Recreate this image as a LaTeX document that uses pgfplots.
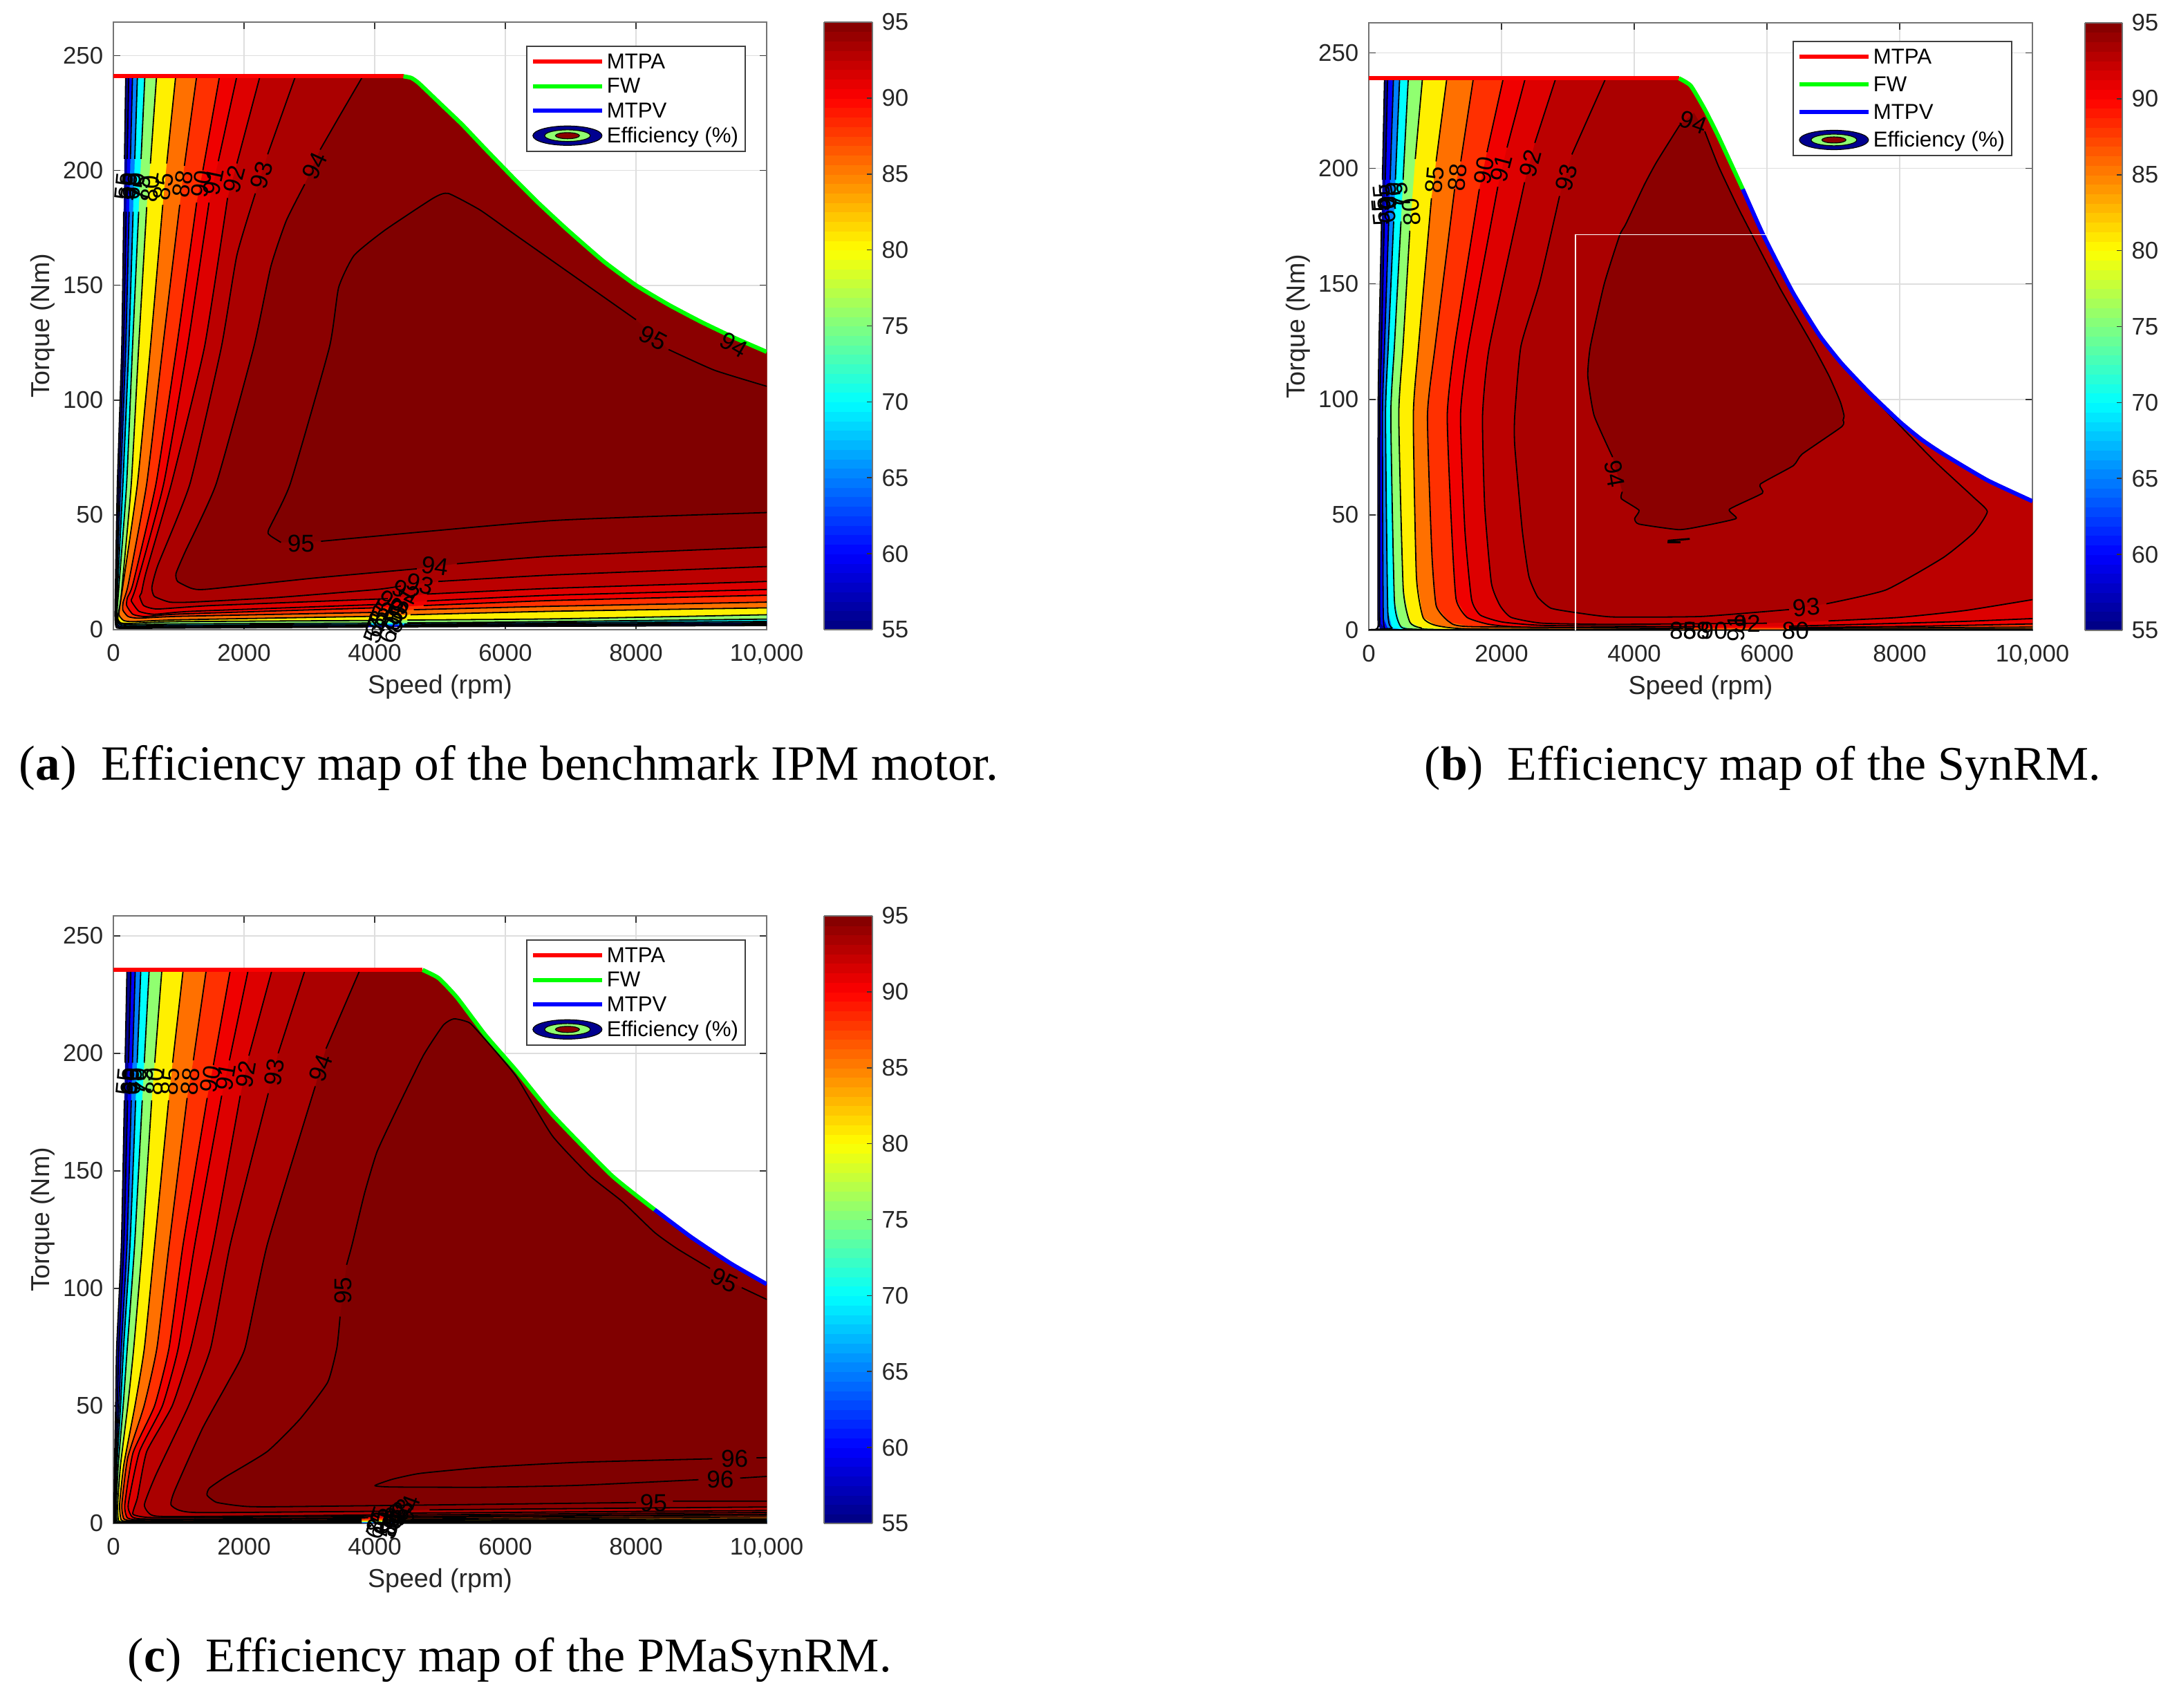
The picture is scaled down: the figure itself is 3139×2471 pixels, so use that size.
\documentclass[border=0pt]{standalone}
\usepackage{fontspec}
\setmainfont{Liberation Sans}
\newfontfamily\capf{Liberation Serif}
\usepackage{pgfplots}
\pgfplotsset{compat=1.18}

\definecolor{c55}{HTML}{00008F}
\definecolor{c60}{HTML}{0000FF}
\definecolor{c65}{HTML}{0080FF}
\definecolor{c70}{HTML}{00FFFF}
\definecolor{c75}{HTML}{90FF70}
\definecolor{c80}{HTML}{FFF000}
\definecolor{c85}{HTML}{FF7000}
\definecolor{c88}{HTML}{FF3000}
\definecolor{c90}{HTML}{F00000}
\definecolor{c91}{HTML}{DD0000}
\definecolor{c92}{HTML}{BB0000}
\definecolor{c93}{HTML}{AA0000}
\definecolor{c94}{HTML}{8B0000}
\definecolor{c95}{HTML}{800000}

\newcommand{\tickfont}{\fontsize{8.7}{9}\selectfont}
\newcommand{\clabfont}{\fontsize{8.8}{9}\selectfont}
\newcommand{\labfont}{\fontsize{9.4}{10}\selectfont}
\newcommand{\legfont}{\fontsize{7.8}{9}\selectfont}

\pgfplotsset{
  colormap={mjet}{rgb(0cm)=(0,0,.5) rgb(1cm)=(0,0,1) rgb(3cm)=(0,1,1) rgb(5cm)=(1,1,0) rgb(7cm)=(1,0,0) rgb(8cm)=(.5,0,0)},
  layers/maplayers/.define layer set={axis background,axis grid,main,axis ticks,axis lines,axis tick labels,axis descriptions,axis foreground}{},
  contour/.style={black,line width=.45pt,line join=round,no markers,forget plot,smooth,tension=.3},
  lgline/.style={legend image code/.code={\draw[#1,line width=1.5pt] (0pt,0pt)--(25pt,0pt);}},
  effimage/.style={legend image code/.code={
    \draw[black,line width=.3pt,fill=c55] (12.5pt,0pt) ellipse (12.5pt and 3.5pt);
    \draw[black,line width=.3pt,fill=c75] (12.5pt,0pt) ellipse (8.25pt and 2.1pt);
    \draw[black,line width=.3pt,fill=c94] (12.5pt,0pt) ellipse (4.35pt and 1.1pt);}},
  effmap/.style={
    scale only axis, set layers=maplayers, clip mode=individual,
    anchor=south west,
    xmin=0, xmax=10000, ymin=0,
    xtick={0,2000,4000,6000,8000,10000}, xticklabels={0,2000,4000,6000,8000,{10,000}},
    ytick={0,50,100,150,200,250}, yticklabels={0,50,100,150,200,250},
    scaled x ticks=false,
    grid=major, grid style={black!13,line width=.45pt},
    tick align=inside, major tick length=2.4pt,
    tick style={black!80,line width=.4pt},
    axis line style={black!55,line width=.5pt},
    xticklabel style={font=\tickfont,text=black!85,inner sep=0pt,yshift=-5.2pt},
    yticklabel style={font=\tickfont,text=black!85,inner sep=0pt,xshift=-3.5pt},
    xlabel={Speed (rpm)}, ylabel={Torque (Nm)},
    every axis x label/.style={at={(0.5,0)},anchor=base,yshift=-23.2pt,font=\labfont,text=black!85},
    every axis y label/.style={at={(0,0.5)},rotate=90,anchor=center,yshift=25.5pt,font=\labfont,text=black!85},
    legend cell align=left,
    colormap name=mjet, point meta min=55, point meta max=95,
    colorbar sampled,
    colorbar shift/.style={xshift=20.75pt},
  },
  effbar/.style={colorbar style={samples=65,width=#1,
    at={(parent axis.north east)},anchor=north west,
    ytick={55,60,65,70,75,80,85,90,95}, yticklabels={55,60,65,70,75,80,85,90,95},
    ytick pos=right, yticklabel pos=right, tick align=inside,
    major tick length=2pt, tick style={black!80,line width=.4pt},
    axis line style={black!55,line width=.5pt},
    yticklabel style={font=\tickfont,text=black!85,inner sep=0pt,xshift=3.2pt}}},
  efflegend/.style n args={3}{legend style={at={(#1,#2)},anchor=north west,font=\legfont,
    draw=black!75,line width=.45pt,inner xsep=1.5pt,inner ysep=2pt,row sep=#3,
    nodes={inner ysep=0pt,inner xsep=1pt,text height=6.1pt,text depth=1.1pt}}},
}

% one filled contour level: colour, contour line (gaps as nan), closing path
\newcommand{\band}[3]{%
  \edef\tmp{\noexpand\addplot[draw=none,fill=#1,forget plot,no markers,unbounded coords=discard] coordinates {#2 #3} --cycle;}\tmp
  \addplot[contour,unbounded coords=jump] coordinates {#2};}
\newcommand{\curve}[2]{%
  \edef\tmp{\noexpand\addplot[#1,line width=1.5pt,no markers,forget plot,smooth,tension=.3] coordinates {#2};}\tmp}
\newcommand{\lab}[4]{\node[rotate=#3,inner sep=0pt,font=\clabfont] at (axis cs:#1,#2) {#4};}
\newcommand{\effkeys}{%
  \addlegendimage{lgline=red}\addlegendimage{lgline=green}\addlegendimage{lgline=blue}\addlegendimage{effimage}
  \legend{MTPA,FW,MTPV,Efficiency (\%)}}

\def\envA{(10000,121)(9500,127.2)(9000,134)(8500,141.5)(8000,150)(7500,160.5)(6947,174.2)(6500,186)(6148,196)(5672,210)(5338,220)(5007,229)(4676,238)(4560,240.3)(4440,241)}
\def\envBtop{(7125,115.5)(6792,127.6)(6385,146.5)(5938,171.5)(5635,191)(5268,213.8)(5059,225.7)(4850,235.8)(4673,239)}
\def\envBlow{(10000,55.9)(9320,65)(8656,76.3)(8323,82.7)(8000,90.3)(7537,103)}
\def\envClow{(10000,101.8)(9450,110.6)(8846,121.8)(8285,133.5)}
\def\envCtop{(8285,133.5)(7630,148)(6717,174)(6160,192.9)(5688,208)(5262,223.7)(4979,232)(4733,235.5)}

\begin{document}
\begin{tikzpicture}[x=.25pt,y=.25pt]

% (a) benchmark IPM
\begin{axis}[effmap, effbar=17.5pt, at={(41pt,390pt)}, width=236.25pt, height=219.75pt, ymax=264.6,
  efflegend={.6317}{.9613}{1.7pt}]
\band{c55}{(189,241)(170,205)(170,nan)(158,182)(128,123)(61,63.5)(32,20)(25,6)(40,1.2)(120,.6)(1000,.7)(3900,1.1)(3900,nan)(4350,1.2)(6000,1.4)(10000,1.8)}{\envA}
\band{c60}{(236,241)(212,205)(212,nan)(196,182)(156,123)(85,63.5)(42,20)(32,6)(50,1.6)(150,.9)(1000,1)(3900,1.4)(3900,nan)(4400,1.6)(6000,1.9)(10000,2.4)}{\envA}
\band{c65}{(293,241)(261,205)(261,nan)(241,182)(189,123)(109,63.5)(54,20)(40,6)(65,2.1)(180,1.3)(1000,1.4)(3900,1.8)(3900,nan)(4450,2)(6000,2.3)(10000,3)}{\envA}
\band{c70}{(368,241)(328,205)(328,nan)(302,182)(236,123)(146,63.5)(68,20)(48,6)(80,2.6)(220,1.7)(1000,1.9)(3900,2.3)(3900,nan)(4450,2.5)(6000,2.8)(10000,3.6)}{\envA}
\band{c75}{(482,241)(424,205)(424,nan)(387,182)(293,123)(203,63.5)(88,20)(55,7)(85,3)(260,2.2)(1000,2.5)(3950,2.9)(3950,nan)(4500,3)(6000,3.3)(10000,4.6)}{\envA}
\band{c80}{(661,241)(567,203)(567,nan)(510,184)(387,123)(274,63.5)(120,15)(75,7)(70,4.5)(109,3)(250,2.7)(1000,3.5)(3950,4)(3950,nan)(4500,4.2)(6713,4.7)(10000,6.5)}{\envA}
\band{c85}{(954,241)(817,203)(817,nan)(756,185)(567,123)(368,63.5)(150,20)(109,12)(85,6.5)(156,4)(300,3.5)(1000,4.3)(3950,5.8)(3950,nan)(4550,6.5)(6713,8)(10000,9.5)}{\envA}
\band{c88}{(1275,241)(1087,202)(1087,nan)(1016,185)(756,123)(510,63.5)(230,20)(150,12)(145,8.5)(227,5.7)(392,5)(1000,5.8)(3950,7.5)(3950,nan)(4600,8.7)(6713,10.2)(10000,12)}{\envA}
\band{c90}{(1625,241)(1370,200)(1370,nan)(1275,186)(968,123)(652,63.5)(300,20)(215,14)(203,10.5)(298,6.7)(487,5.7)(1000,6.8)(4000,9.5)(4000,nan)(4750,10.5)(6713,12.7)(10000,15)}{\envA}
\band{c91}{(1890,241)(1606,204)(1606,nan)(1464,186)(1134,123)(770,63.5)(360,20)(290,14)(274,12.5)(392,8)(628,6.7)(1200,8)(4100,11)(4100,nan)(4800,12.5)(6713,15)(10000,17.5)}{\envA}
\band{c92}{(2244,241)(1890,203)(1890,nan)(1748,188)(1394,123)(888,63.5)(500,25)(430,16)(402,14.5)(463,10.5)(675,9)(1500,10.5)(4200,13.5)(4200,nan)(4800,15.5)(6713,18)(10000,21)}{\envA}
\band{c93}{(2787,241)(2362,207)(2362,nan)(2173,190)(1890,163)(1653,123)(1172,63.5)(680,28)(590,18.5)(628,14.5)(864,12)(1195,12)(2500,14)(4030,17.5)(4400,19)(4400,nan)(4974,21)(6713,23.8)(10000,27.5)}{\envA}
\band{c94}{(3817,241)(3448,223)(3165,209)(3165,nan)(2929,194)(2645,178)(2409,158)(2149,123)(1573,63.5)(1100,34)(959,24.5)(983,21)(1195,18)(1431,17.6)(3085,22.5)(4644,26.5)(4644,nan)(5258,28.7)(6713,32)(10000,36)}{\envA}
\band{c95}{(10000,106)(9200,113)(8500,122)(8500,nan)(8000,135)(7500,145)(7000,155)(6500,165)(6000,175)(5600,183)(5126,190)(4900,188)(4157,174)(3685,163)(3448,149)(3307,123)(2707,63.5)(2376,43.5)(2400,41)(2565,38)(2565,nan)(3179,38.5)(6713,47.5)(10000,51)}{}
\addplot[red,line width=1.5pt,no markers,forget plot] coordinates {(0,241)(4440,241)};
\curve{green}{\envA}
\lab{165}{193}{85}{55}\lab{227}{193}{85}{60}\lab{283}{193}{85}{65}\lab{340}{193}{85}{70}\lab{425}{192}{85}{75}
\lab{567}{192}{85}{80}\lab{765}{193}{80}{85}\lab{1063}{194}{80}{88}\lab{1346}{194}{80}{90}\lab{1535}{195}{78}{91}
\lab{1852}{196}{75}{92}\lab{2268}{198}{75}{93}\lab{3080}{202}{65}{94}\lab{8263}{127}{-28}{95}\lab{9500}{124}{-30}{94}
\lab{2872}{37.5}{0}{95}\lab{4927}{27.7}{-8}{94}\lab{4691}{20}{-15}{93}\lab{4478}{16.5}{-25}{92}\lab{4431}{12.5}{60}{91}
\lab{4242}{11.5}{-40}{90}\lab{4337}{8}{60}{88}\lab{4100}{7.5}{60}{85}\lab{4337}{4.5}{70}{80}\lab{4053}{4.5}{70}{75}
\lab{4266}{2.5}{70}{70}\lab{4030}{2.5}{70}{65}\lab{4242}{0}{70}{60}\lab{4006}{0}{70}{55}
\effkeys
\end{axis}

% (b) SynRM
\begin{axis}[effmap, effbar=13.5pt, colorbar shift/.style={xshift=19pt},
  at={(495pt,389.75pt)}, width=240pt, height=219.75pt, ymax=263,
  efflegend={.6385}{.9704}{2.8pt}]
\band{c55}{(237,239)(205,195)(205,nan)(192,177)(153,123)(140,93)(140,2.1)(186,.2)(10000,.04)}{\envBlow\envBtop}
\band{c60}{(284,239)(249,195)(249,nan)(233,177)(191,123)(166,93)(166,3.6)(252,.4)(10000,.08)}{\envBlow\envBtop}
\band{c65}{(372,239)(322,195)(322,nan)(300,177)(237,123)(206,93)(219,5.6)(286,.8)(419,.2)(10000,.12)}{\envBlow\envBtop}
\band{c70}{(465,239)(401,195)(401,nan)(375,177)(293,123)(252,93)(286,8.6)(352,1.1)(551,.3)(10000,.18)}{\envBlow\envBtop}
\band{c75}{(595,239)(517,195)(517,nan)(485,177)(386,123)(332,93)(385,13.5)(472,2.1)(618,.6)(1681,.2)(10000,.25)}{\envBlow\envBtop}
\band{c80}{(809,239)(700,204)(700,nan)(618,173)(516,123)(452,93)(518,18.5)(618,3.6)(784,1.1)(1349,.3)(10000,.35)}{\envBlow\envBtop}
\band{c85}{(1176,239)(1014,203)(1014,nan)(944,187)(749,123)(671,93)(717,23.5)(817,5.6)(1016,2.1)(1548,.6)(4537,.4)(4537,nan)(6331,.4)(10000,.6)}{\envBlow\envBtop}
\band{c88}{(1576,239)(1386,203)(1386,nan)(1293,191)(1000,123)(884,93)(950,33.5)(1016,10.6)(1216,3.6)(1548,1.6)(4736,.8)(4736,nan)(6331,.8)(10000,1.4)}{\envBlow\envBtop}
\band{c90}{(2027,239)(1781,207)(1781,nan)(1665,191)(1293,123)(1182,93)(1249,43.4)(1315,13.5)(1481,5.6)(1814,2.6)(2345,1.4)(4869,1)(4869,nan)(6331,1.2)(8323,1.8)(10000,2.8)}{\envBlow\envBtop}
\band{c91}{(2358,239)(2083,209)(2083,nan)(1944,192)(1502,123)(1382,93)(1448,43.4)(1548,13.5)(1681,6.6)(2013,3.6)(2677,2.1)(5002,1.6)(5002,nan)(6331,1.8)(7659,2.8)(8988,3.9)(10000,5.1)}{\envBlow\envBtop}
\band{c92}{(2818,239)(2502,211)(2502,nan)(2348,194)(1818,123)(1714,93)(1747,53.4)(1847,20.5)(1980,10.6)(2146,5.6)(2611,3.1)(3674,2.6)(5999,3.1)(5999,nan)(6929,4.1)(7992,5.6)(8988,8.6)(10000,13.3)}{\envBlow\envBtop}
\band{c93}{(3571,239)(3060,206)(3060,nan)(2874,188)(2571,150)(2292,123)(2199,93)(2199,80)(2312,43.4)(2411,23.5)(2544,14.5)(2744,9.6)(3142,7.6)(3674,5.8)(5002,6)(6331,9)(6331,nan)(6895,11.5)(7792,17.5)(8656,31.5)(9121,42.4)(9320,51.4)(9121,57.4)(8523,73.3)(7858,93)(7537,103)}{\envBtop}
\band{c94}{(7146,91)(7161,93)(7104,99)(6937,110)(6677,124)(6198,148)(5770,171.5)(5547,184)(5268,201)(5063,216)(5063,nan)(4900,224)(4900,nan)(4687,218.8)(4338,202.8)(4152,192.9)(3873,175.9)(3780,171)(3548,150)(3339,123)(3300,110)(3395,93)(3674,75)(3674,nan)(3820,60)(3806,57)(4072,52)(4006,48.4)(4072,46)(4670,43.6)(5002,45)(5534,48.4)(5434,52.4)(5932,59.4)(5899,63.3)(6397,71.3)(6530,76.3)(7128,88.2)(7146,91)}{}
\addplot[contour,line width=.7pt] coordinates {(4504,38.8)(4836,39.6)};
\addplot[contour,line width=.7pt] coordinates {(4504,38.2)(4700,38.2)};
\addplot[red,line width=1.5pt,no markers,forget plot] coordinates {(0,239)(4673,239)};
\curve{green}{(4673,239)(4850,235.8)(5059,225.7)(5268,213.8)(5635,191)}
\curve{blue}{(5635,191)(5938,171.5)(6385,146.5)(6792,127.6)(7125,115.5)(7537,103)(8000,90.3)(8323,82.7)(8656,76.3)(9320,65)(10000,55.9)}
\addplot[white,line width=.3pt,no markers,forget plot] coordinates {(3115,0)(3115,171.3)(6010,171.3)};
\lab{200}{187}{95}{55}\lab{185}{181}{95}{55}\lab{270}{182}{95}{60}\lab{293}{188}{95}{65}\lab{386}{188}{95}{70}\lab{479}{188}{100}{75}
\lab{642}{181}{95}{80}\lab{990}{195}{85}{85}\lab{1339}{196}{85}{88}\lab{1734}{199}{80}{90}\lab{2000}{200}{75}{91}
\lab{2432}{202}{75}{92}\lab{2976}{196}{75}{93}\lab{4887}{220}{-20}{94}\lab{3707}{67.8}{-80}{94}\lab{6596}{10}{5}{93}
\lab{4736}{0}{0}{85}\lab{4936}{0}{0}{88}\lab{5201}{0}{0}{90}\lab{5533}{1}{90}{91}\lab{5700}{3}{0}{92}\lab{6430}{0}{0}{80}
\effkeys
\end{axis}

% (c) PMaSynRM
\begin{axis}[effmap, effbar=17.5pt, at={(41pt,66.75pt)}, width=236.25pt, height=219.75pt, ymax=258.5,
  efflegend={.6317}{.9613}{1.7pt}]
\band{c55}{(208,235.5)(179,196)(179,nan)(168,180)(123,118.8)(50,74.7)(35,50)(18,25)(10,8)(12,.25)(60,.08)(3800,.1)(3800,nan)(4350,.15)(10000,.2)}{\envClow\envCtop}
\band{c60}{(269,235.5)(232,196)(232,nan)(218,180)(161,118.8)(85,74.7)(60,50)(30,25)(15,8)(20,.4)(80,.15)(3800,.22)(3800,nan)(4350,.3)(10000,.4)}{\envClow\envCtop}
\band{c65}{(335,235.5)(292,196)(292,nan)(274,180)(208,118.8)(121,74.7)(85,50)(42,25)(25,8)(30,.6)(100,.25)(3800,.32)(3800,nan)(4350,.45)(10000,.6)}{\envClow\envCtop}
\band{c70}{(420,235.5)(364,196)(364,nan)(341,180)(255,118.8)(156,74.7)(110,50)(55,25)(35,8)(40,.8)(120,.35)(3800,.45)(3800,nan)(4350,.6)(10000,.8)}{\envClow\envCtop}
\band{c75}{(548,235.5)(473,196)(473,nan)(442,180)(326,118.8)(213,74.7)(150,50)(75,25)(45,8)(55,1)(150,.5)(1000,.45)(3800,.6)(3800,nan)(4350,.8)(10000,1.1)}{\envClow\envCtop}
\band{c80}{(742,235.5)(633,196)(633,nan)(586,180)(444,118.8)(312,74.7)(220,50)(110,25)(65,8)(80,1.2)(200,.7)(1000,.6)(3800,.8)(3800,nan)(4350,1)(10000,1.5)}{\envClow\envCtop}
\band{c85}{(1068,235.5)(907,196)(907,nan)(846,180)(633,118.8)(475,74.7)(330,50)(160,25)(95,8)(120,1.5)(250,.9)(1000,.8)(3800,1.1)(3800,nan)(4350,1.4)(10000,2)}{\envClow\envCtop}
\band{c88}{(1422,235.5)(1224,197)(1224,nan)(1129,181)(855,118.8)(667,74.7)(470,50)(220,28)(130,8)(160,2)(300,1.2)(1000,1.1)(3800,1.5)(3800,nan)(4350,1.9)(10000,2.8)}{\envClow\envCtop}
\band{c90}{(1790,235.5)(1531,195)(1531,nan)(1436,181)(1068,118.8)(852,74.7)(630,50)(300,30)(175,8)(210,2.5)(350,1.6)(1000,1.5)(3800,2)(3800,nan)(4350,2.5)(10000,3.5)}{\envClow\envCtop}
\band{c91}{(2064,235.5)(1776,197)(1776,nan)(1658,182)(1247,118.8)(994,74.7)(750,50)(400,30.6)(227,8)(280,3)(400,2)(1000,1.9)(3900,2.4)(3900,nan)(4400,3)(10000,4)}{\envClow\envCtop}
\band{c92}{(2428,235.5)(2074,199)(2074,nan)(1942,182)(1531,118.8)(1185,74.7)(900,50)(511,30.6)(369,11)(298,4)(511,2.6)(1000,2.5)(3950,3)(3950,nan)(4450,3.6)(10000,4.7)}{\envClow\envCtop}
\band{c93}{(2934,235.5)(2523,200)(2523,nan)(2371,183)(1790,118.8)(1490,74.7)(1150,50)(653,20.8)(475,8)(582,3.6)(937,2.9)(4000,3.6)(4000,nan)(4550,4.4)(10000,5.5)}{\envClow\envCtop}
\band{c94}{(3774,235.5)(3255,202)(3255,nan)(3090,186)(2357,118.8)(2016,74.7)(1753,60)(1363,40.4)(937,13.9)(880,8)(1008,5.6)(1363,4.6)(4200,5.2)(4200,nan)(4840,5.8)(10000,7)}{\envClow\envCtop}
\band{c95}{(10000,95.3)(9619,100.3)(9619,nan)(9132,108.5)(8635,116.8)(8285,123.8)(7788,137)(7291,148)(6717,165)(6160,190.4)(5688,206)(5451,213)(5215,214.7)(5050,212)(4743,199)(4318,175)(4034,158)(3845,140.5)(3656,118.8)(3570,110)(3570,nan)(3470,88)(3421,74.7)(3279,60)(2853,44.3)(2356,30.6)(1717,19.8)(1469,15)(1434,12)(1576,9)(1930,7.5)(2498,7.1)(8000,8.9)(8000,nan)(8566,9.5)(10000,9.5)}{}
\addplot[contour,unbounded coords=jump] coordinates {(10000,28)(9844,27.9)(9844,nan)(9169,27.5)(7111,26)(5692,23.9)(4698,21.3)(4272,18.8)(4003,16.1)(4272,15.5)(5692,15.4)(7111,16.2)(8956,18.6)(8956,nan)(9595,19.3)(10000,20)};
\addplot[red,line width=1.5pt,no markers,forget plot] coordinates {(0,235.5)(4733,235.5)};
\curve{green}{\envCtop}
\curve{blue}{\envClow}
\lab{184}{188}{85}{55}\lab{255}{188}{85}{60}\lab{302}{188}{85}{65}\lab{373}{188}{85}{70}\lab{468}{188}{85}{75}
\lab{633}{188}{85}{80}\lab{869}{188}{85}{85}\lab{1176}{188}{85}{88}\lab{1483}{189}{80}{90}\lab{1720}{190}{80}{91}
\lab{2027}{191}{80}{92}\lab{2466}{192}{80}{93}\lab{3175}{193.8}{70}{94}\lab{3517}{99}{90}{95}\lab{9354}{103.5}{-25}{95}
\lab{9510}{27.5}{0}{96}\lab{9290}{18.6}{0}{96}\lab{8268}{8.8}{0}{95}\lab{4520}{6}{70}{94}\lab{4400}{4.5}{60}{93}
\lab{4350}{3.5}{60}{92}\lab{4300}{2.5}{60}{90}\lab{4250}{1}{70}{88}\lab{4050}{1.5}{70}{85}\lab{4250}{0}{70}{80}
\lab{4050}{0}{70}{75}\lab{4040}{-1}{70}{60}\lab{4240}{-1}{70}{55}
\effkeys
\end{axis}

\node[anchor=base west,inner sep=0pt,font=\capf\fontsize{17.8}{20}\selectfont] at (27,1342) {(\textbf{a})\enskip Efficiency map of the benchmark IPM motor.};
\node[anchor=base west,inner sep=0pt,font=\capf\fontsize{17.45}{20}\selectfont] at (2060,1342) {(\textbf{b})\enskip Efficiency map of the SynRM.};
\node[anchor=base west,inner sep=0pt,font=\capf\fontsize{17.5}{20}\selectfont] at (184,52) {(\textbf{c})\enskip Efficiency map of the PMaSynRM.};
\path (0,0) rectangle (3139,2471);
\end{tikzpicture}
\end{document}
